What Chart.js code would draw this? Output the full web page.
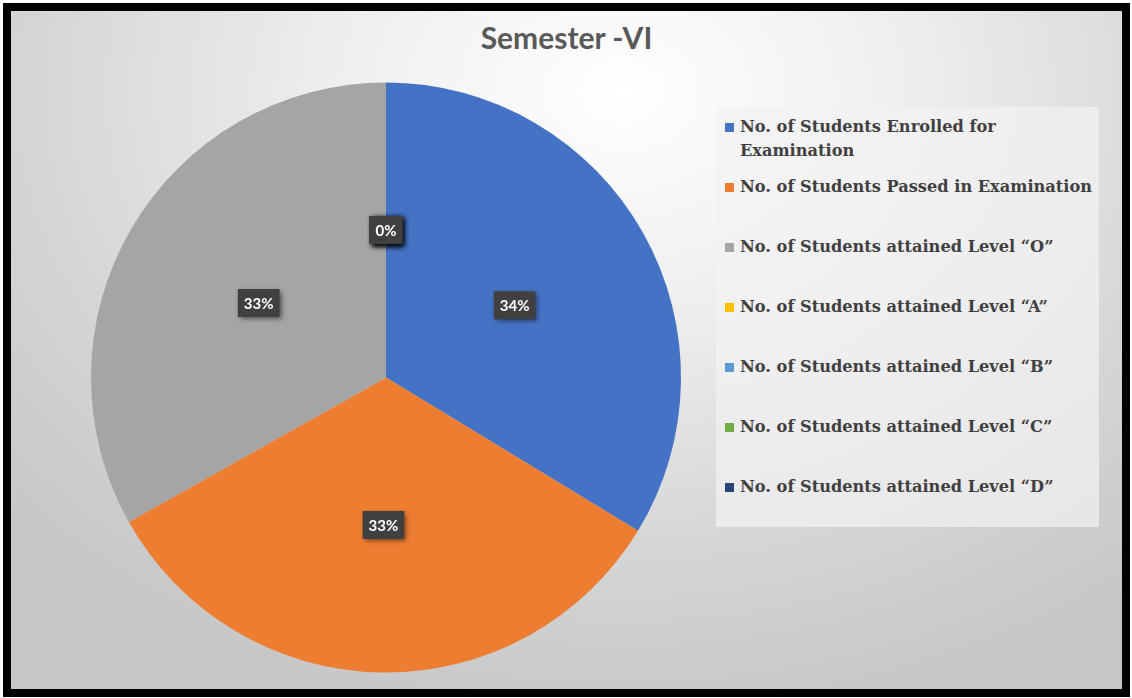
<!DOCTYPE html>
<html>
<head>
<meta charset="utf-8">
<script src="https://cdn.jsdelivr.net/npm/chart.js@4"></script>
<style>
  html, body { margin: 0; padding: 0; background: #ffffff; }
  #frame {
    position: absolute; left: 3px; top: 3px; width: 1111px; height: 678px;
    border: 8px solid #000;
    background: radial-gradient(ellipse 75% 95% at 55% 12%, #ffffff 0%, #eeeeee 35%, #d6d6d6 70%, #c6c6c6 100%);
    overflow: hidden;
  }
  #title {
    position: absolute; left: 0; width: 1111px; top: 8px; text-align: center;
    font-family: Lato, "Open Sans", sans-serif; font-weight: bold; font-size: 30px; color: #595959;
  }
  #legend {
    position: absolute; left: 705px; top: 96px; width: 383px; height: 420px;
    background: rgba(242, 242, 242, 0.7);
    font-family: "DejaVu Serif", serif; font-weight: bold; font-size: 16.2px; color: #404040;
  }
  .item { position: absolute; left: 9px; display: flex; align-items: flex-start; }
  .box { width: 9px; height: 9px; margin-top: 7px; margin-right: 6px; flex: none; }
  .txt { width: 356px; line-height: 24px; margin-top: -1px; }
</style>
</head>
<body>
<div id="frame">
  <div id="title">Semester -VI</div>
  <div id="legend"></div>
</div>
<div id="chart_wrap" style="position:absolute;left:0;top:0;width:1132px;height:698px"><canvas id="chart_semester"></canvas></div>
<script>
// Dữ liệu
const categories = [
  "No. of Students Enrolled for Examination",
  "No. of Students Passed in Examination",
  "No. of Students attained Level \u201CO\u201D",
  "No. of Students attained Level \u201CA\u201D",
  "No. of Students attained Level \u201CB\u201D",
  "No. of Students attained Level \u201CC\u201D",
  "No. of Students attained Level \u201CD\u201D"
];
const studentCounts = [61, 60, 60, 0, 0, 0, 0];
const sliceColors = ["#4472C4", "#ED7D31", "#A5A5A5", "#FFC000", "#5B9BD5", "#70AD47", "#264478"];

// Nhãn phần trăm kiểu Excel (hộp tối, chữ trắng)
const pctLabels = {
  id: "pctLabels",
  afterDatasetsDraw(chart) {
    const ctx = chart.ctx;
    const data = chart.data.datasets[0].data;
    const total = data.reduce((a, b) => a + b, 0);
    const meta = chart.getDatasetMeta(0);
    ctx.save();
    ctx.font = "bold 15px Lato, 'Open Sans', sans-serif";
    ctx.textAlign = "center";
    ctx.textBaseline = "middle";
    meta.data.forEach((arc, i) => {
      const p = arc.tooltipPosition();
      const txt = Math.round(data[i] / total * 100) + "%";
      const w = ctx.measureText(txt).width + 12;
      const h = 28;
      ctx.shadowColor = "rgba(0,0,0,0.55)";
      ctx.shadowBlur = 5;
      ctx.shadowOffsetX = 2;
      ctx.shadowOffsetY = 2;
      ctx.fillStyle = "#404040";
      ctx.fillRect(p.x - w / 2, p.y - h / 2, w, h);
      ctx.shadowColor = "transparent";
      ctx.fillStyle = "#ffffff";
      ctx.fillText(txt, p.x, p.y + 1);
    });
    ctx.restore();
  }
};

const canvas = document.getElementById("chart_semester");
const chart = new Chart(canvas.getContext("2d"), {
  type: "pie",
  data: {
    labels: categories,
    datasets: [{ data: studentCounts, backgroundColor: sliceColors, borderWidth: 0 }]
  },
  options: {
    responsive: true,
    maintainAspectRatio: false,
    animation: false,
    layout: { padding: { left: 91, right: 451, top: 82, bottom: 25 } },
    plugins: {
      legend: { display: false },
      title: { display: false },
      tooltip: { enabled: false }
    }
  },
  plugins: [pctLabels]
});

// Legend HTML
const legendEl = document.getElementById("legend");
const itemTops = [9, 69, 129, 189, 249, 309, 369];
chart.data.labels.forEach((lbl, i) => {
  const item = document.createElement("div");
  item.className = "item";
  item.style.top = itemTops[i] + "px";
  const box = document.createElement("div");
  box.className = "box";
  box.style.background = sliceColors[i];
  const t = document.createElement("div");
  t.className = "txt";
  t.textContent = lbl;
  item.appendChild(box);
  item.appendChild(t);
  legendEl.appendChild(item);
});
</script>
</body>
</html>
